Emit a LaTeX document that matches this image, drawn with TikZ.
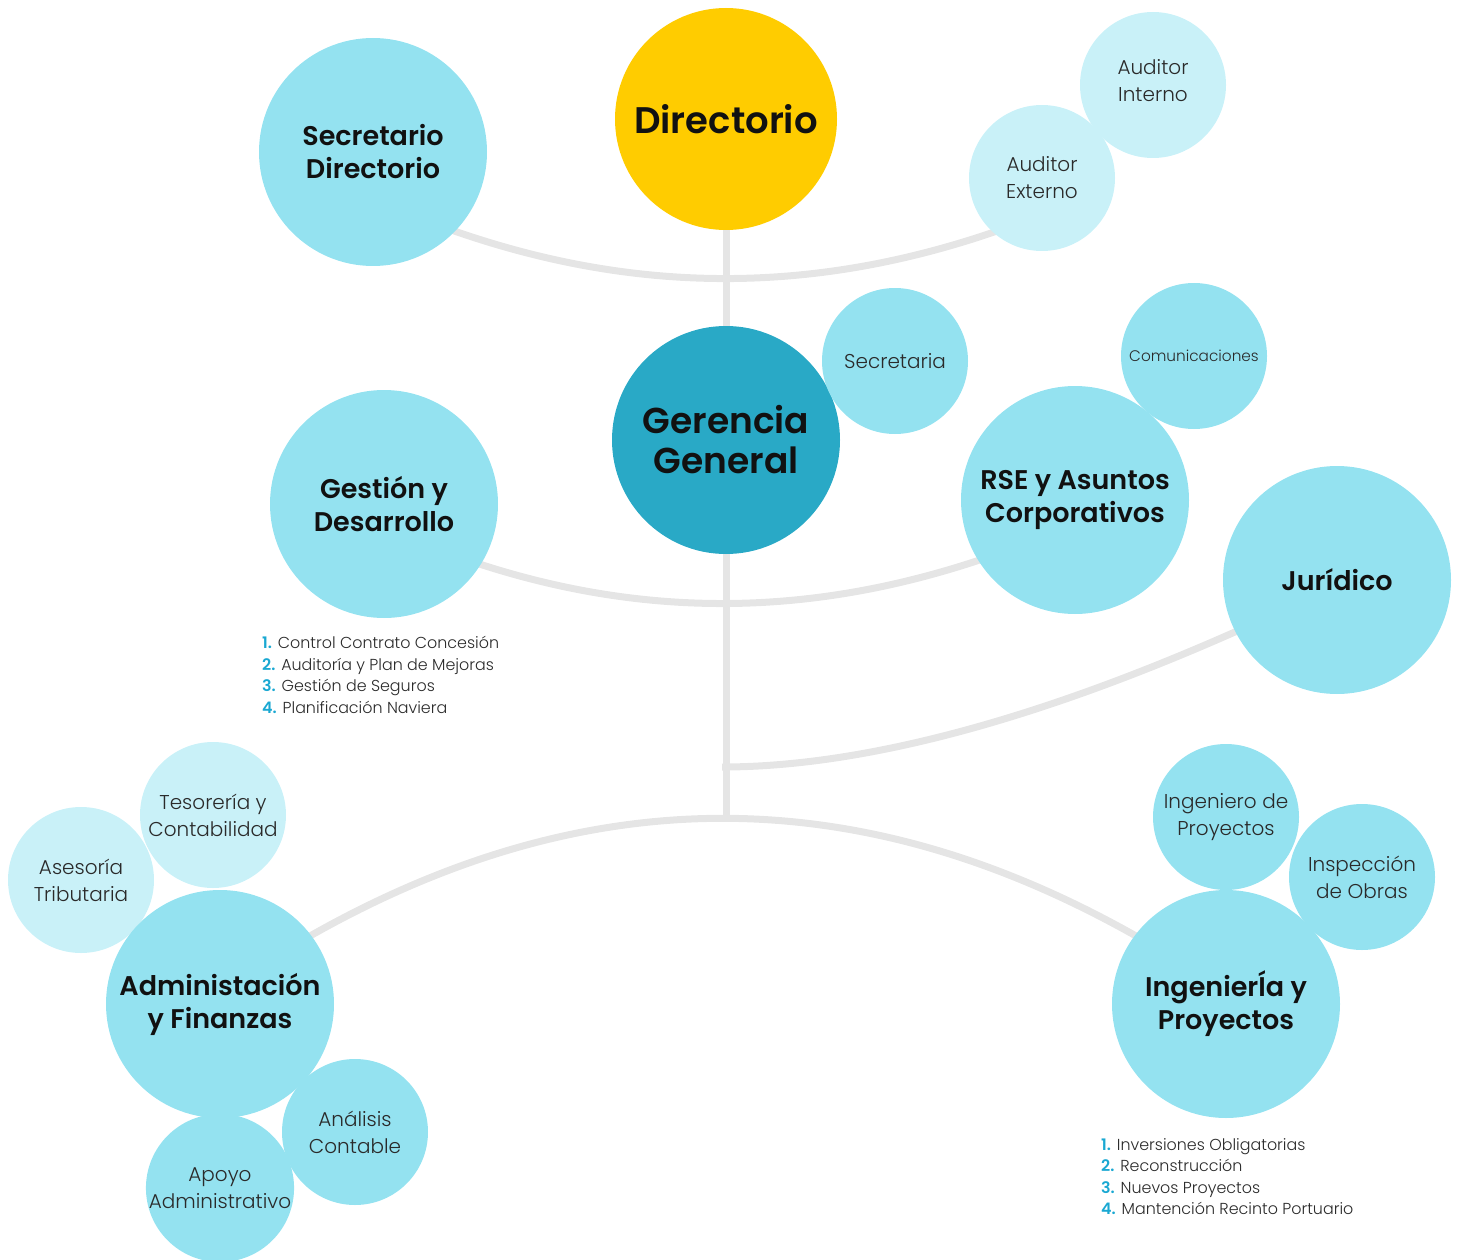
\documentclass[tikz,border=0pt]{standalone}
\usepackage{fontspec}
\setmainfont{Poppins}
\newfontfamily\bfont{Poppins SemiBold}
\newfontfamily\lfont{Poppins Light}
\usetikzlibrary{backgrounds}
\definecolor{lblue}{HTML}{94E2F0}
\definecolor{pale}{HTML}{C9F1F8}
\definecolor{teal}{HTML}{29A9C6}
\definecolor{gold}{HTML}{FFCC00}
\definecolor{linegray}{HTML}{E5E5E5}
\definecolor{numblue}{HTML}{1AA8D2}
\definecolor{ink}{HTML}{111111}
\definecolor{ink2}{HTML}{2A2A2A}
\begin{document}
\begin{tikzpicture}[x=1pt,y=-1pt,
  bigc/.style={circle, fill=lblue, minimum size=228pt, inner sep=0pt, align=center, text=ink,
    font=\bfont\fontsize{27}{33}\selectfont},
  smallc/.style={circle, fill=lblue, minimum size=146pt, inner sep=0pt, align=center, text=ink2,
    font=\lfont\fontsize{20}{27}\selectfont},
  conn/.style={draw=linegray, line width=7pt},
  listtxt/.style={anchor=north west, align=left, inner sep=0pt, text=ink2,
    font=\lfont\fontsize{15.9}{21.5}\selectfont}
]
\useasboundingbox (0,0) rectangle (1457,1260);
\newcommand{\nb}[1]{{\bfont\color{numblue}#1}}

% top level
\node[bigc, fill=gold, minimum size=222pt, font=\bfont\fontsize{37}{40}\selectfont] (dir) at (726,119) {Directorio};
\node[bigc] (secdir) at (373,152) {Secretario\\Directorio};
\node[smallc, fill=pale] (audint) at (1153,85) {Auditor\\Interno\\[-17pt]\mbox{}};
\node[smallc, fill=pale] (audext) at (1042,178) {Auditor\\Externo};

% gerencia level
\node[bigc, fill=teal, font=\bfont\fontsize{36}{40}\selectfont] (ger) at (726,440) {Gerencia\\General};
\node[smallc] (secre) at (895,361) {Secretaria};
\node[smallc, font=\lfont\fontsize{15.3}{20}\selectfont] (comu) at (1194,356) {Comunicaciones};
\node[bigc] (rse) at (1075,500) {RSE y Asuntos\\Corporativos};
\node[bigc] (gest) at (384,504) {Gestión y\\Desarrollo};
\node[bigc] (jur) at (1337,580) {Jurídico};

% admin group
\node[smallc, fill=pale] (ases) at (81,880) {Asesoría\\Tributaria};
\node[smallc, fill=pale] (teso) at (213,815) {Tesorería y\\Contabilidad};
\node[bigc] (admin) at (220,1004) {Administación\\y Finanzas};
\node[smallc] (anal) at (355,1132) {Análisis\\Contable};
\node[smallc] (apoyo) at (220,1188) {Apoyo\\Administrativo};

% ingenieria group
\node[smallc] (ingp) at (1226,817) {Ingeniero de\\Proyectos};
\node[smallc] (insp) at (1362,877) {Inspección\\de Obras};
\node[bigc] (ing) at (1226,1004) {IngenierÍa y\\Proyectos};

% lists
\node[listtxt] (list1) at (262,636) {\nb{1.} Control Contrato Concesión\\\nb{2.} Auditoría y Plan de Mejoras\\\nb{3.} Gestión de Seguros\\\nb{4.} Planificación Naviera};
\node[listtxt] (list2) at (1101,1138) {\nb{1.} Inversiones Obligatorias\\\nb{2.} Reconstrucción\\\nb{3.} Nuevos Proyectos\\\nb{4.} Mantención Recinto Portuario};

\coordinate (hub) at (726,817);
\coordinate (jend) at (722,767);

\begin{scope}[on background layer]
  \draw[conn] (dir.south) -- (ger.north);
  \draw[conn, shorten <=-8pt, shorten >=-8pt] (secdir.-44) .. controls (634,295) and (814,295) .. (audext.-132);
  \draw[conn, shorten <=-8pt, shorten >=-8pt] (gest.-32) .. controls (645,619) and (812,617) .. (rse.-148);
  \draw[conn] (ger.south) -- (hub);
  \draw[conn, shorten >=-8pt] (jend) .. controls (858,767) and (1031,723) .. (jur.-153);
  \draw[conn, shorten <=-8pt, shorten >=-8pt] (admin.37) .. controls (585,778) and (860,778) .. (ing.143);
\end{scope}
\end{tikzpicture}
\end{document}
